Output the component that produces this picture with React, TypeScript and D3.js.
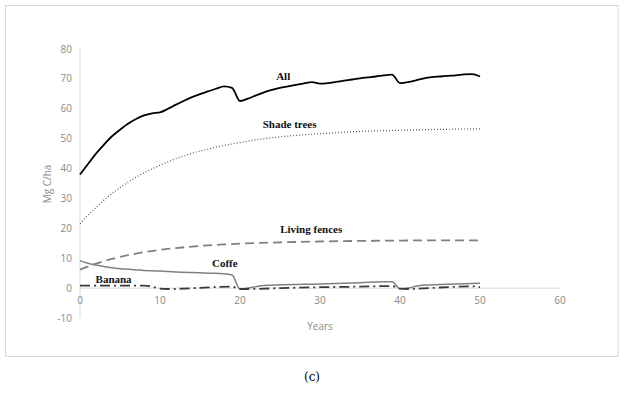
import React, { useEffect, useRef } from "react";
import * as d3 from "d3";

// carbon stock by component, Mg C/ha
const allYears = d3.range(0, 51);
const allValues = [
  38, 41.5, 45, 48, 50.8, 53, 55, 56.6, 57.8, 58.5, 58.8, 60, 61.4, 62.7, 63.9,
  64.9, 65.8, 66.7, 67.5, 67, 62.6, 63.4, 64.5, 65.5, 66.3, 67, 67.5, 68, 68.5,
  68.9, 68.4, 68.6, 69, 69.4, 69.8, 70.2, 70.5, 70.8, 71.2, 71.4, 68.6, 68.9,
  69.5, 70.2, 70.6, 70.8, 71, 71.2, 71.5, 71.6, 70.8,
];

const shadeYears = [0, 1, 2, 3, 4, 5, 6, 7, 8, 9, 10, 12, 14, 16, 18, 20, 22, 25, 28, 31, 34, 37, 40, 45, 50];
const shadeValues = [
  21.5, 24.4, 27, 29.5, 31.6, 33.6, 35.4, 37.1, 38.6, 39.9, 41.1, 43.3, 45.1,
  46.5, 47.7, 48.7, 49.6, 50.6, 51.3, 51.8, 52.3, 52.6, 52.8, 53.1, 53.3,
];

const fenceYears = [0, 2, 4, 6, 8, 10, 12, 14, 16, 18, 20, 25, 30, 35, 40, 45, 50];
const fenceValues = [6.2, 8.2, 9.8, 11, 12, 12.8, 13.4, 13.9, 14.3, 14.6, 14.9, 15.3, 15.6, 15.8, 15.9, 16, 16];

const coffeYears = [0, 1, 2, 3, 4, 5, 6, 7, 8, 9, 10, 12, 14, 16, 18, 19, 20, 21, 22, 23, 25, 30, 35, 38, 39, 40, 41, 42, 43, 45, 50];
const coffeValues = [
  9.2, 8.3, 7.7, 7.2, 6.8, 6.5, 6.3, 6.1, 5.9, 5.8, 5.7, 5.4, 5.2, 5, 4.8, 4.4,
  -0.3, 0, 0.5, 0.9, 1.1, 1.4, 1.8, 2.1, 2.1, -0.2, 0, 0.6, 1, 1.2, 1.6,
];

const bananaYears = [0, 5, 8, 9, 10, 11, 15, 19, 20, 21, 25, 30, 35, 39, 40, 41, 45, 49, 50];
const bananaValues = [0.8, 0.8, 0.8, 0.5, -0.2, -0.3, 0.1, 0.5, -0.3, -0.3, 0, 0.3, 0.5, 0.7, -0.2, -0.3, 0.2, 0.6, 0.3];

const xTicks = [0, 10, 20, 30, 40, 50, 60];
const yTicks = [-10, 0, 10, 20, 30, 40, 50, 60, 70, 80];

const seriesLabels = [
  { text: "All", year: 25.4, value: 69.6 },
  { text: "Shade trees", year: 26.2, value: 53.5 },
  { text: "Living fences", year: 28.9, value: 18.4 },
  { text: "Coffe", year: 18.1, value: 7.2 },
  { text: "Banana", year: 4.2, value: 1.7 },
];

const App = () => {
  const chartRef = useRef(null);

  useEffect(() => {
    const width = 624;
    const height = 395;
    d3.select(chartRef.current).select("svg").remove();
    const svg = d3
      .select(chartRef.current)
      .append("svg")
      .attr("width", width)
      .attr("height", height)
      .style("position", "absolute")
      .style("left", 0)
      .style("top", 0)
      .style("background", "#fff");

    // frame
    svg
      .append("rect")
      .attr("x", 5.5)
      .attr("y", 5.5)
      .attr("width", 612.5)
      .attr("height", 351)
      .attr("fill", "#fff")
      .attr("stroke", "#d9d9d9");

    const x = d3.scaleLinear().domain([0, 60]).range([80, 560]);
    const y = d3.scaleLinear().domain([-10, 80]).range([318, 49]);

    const tickFont = "'Open Sans', 'Liberation Sans', sans-serif";

    // axes lines
    svg
      .append("line")
      .attr("x1", x(0))
      .attr("x2", x(0))
      .attr("y1", y(-10))
      .attr("y2", y(80))
      .attr("stroke", "#d9d9d9")
      .attr("stroke-width", 1);
    svg
      .append("line")
      .attr("x1", x(0))
      .attr("x2", x(60))
      .attr("y1", y(0))
      .attr("y2", y(0))
      .attr("stroke", "#d9d9d9")
      .attr("stroke-width", 1);

    svg
      .append("g")
      .selectAll("text")
      .data(yTicks)
      .enter()
      .append("text")
      .attr("x", 72)
      .attr("y", (d) => y(d))
      .attr("dy", "0.35em")
      .attr("text-anchor", "end")
      .attr("font-family", tickFont)
      .attr("font-size", 10)
      .attr("fill", "#8a8a8a")
      .text((d) => d);

    svg
      .append("g")
      .selectAll("text")
      .data(xTicks)
      .enter()
      .append("text")
      .attr("x", (d) => x(d))
      .attr("y", y(0) + 12)
      .attr("dy", "0.35em")
      .attr("text-anchor", "middle")
      .attr("font-family", tickFont)
      .attr("font-size", 10)
      .attr("fill", "#8a8a8a")
      .text((d) => d);

    svg
      .append("text")
      .attr("transform", "translate(51, 184) rotate(-90)")
      .attr("text-anchor", "middle")
      .attr("font-family", tickFont)
      .attr("font-size", 10)
      .attr("fill", "#8a8a8a")
      .text("Mg C/ha");

    svg
      .append("text")
      .attr("x", 320)
      .attr("y", 330)
      .attr("text-anchor", "middle")
      .attr("font-family", tickFont)
      .attr("font-size", 10)
      .attr("fill", "#8a8a8a")
      .text("Years");

    const line = d3
      .line()
      .x((d) => x(d[0]))
      .y((d) => y(d[1]))
      .curve(d3.curveMonotoneX);

    const series = [
      { years: shadeYears, values: shadeValues, color: "#595959", width: 1.2, dash: "1,2" },
      { years: fenceYears, values: fenceValues, color: "#808080", width: 1.8, dash: "9,5" },
      { years: coffeYears, values: coffeValues, color: "#808080", width: 1.5, dash: null },
      { years: bananaYears, values: bananaValues, color: "#3a3a3a", width: 1.8, dash: "10,4,2,4" },
      { years: allYears, values: allValues, color: "#000", width: 1.8, dash: null },
    ];

    svg
      .append("g")
      .selectAll("path")
      .data(series)
      .enter()
      .append("path")
      .attr("d", (s) => line(s.years.map((yr, i) => [yr, s.values[i]])))
      .attr("fill", "none")
      .attr("stroke", (s) => s.color)
      .attr("stroke-width", (s) => s.width)
      .attr("stroke-dasharray", (s) => s.dash)
      .attr("stroke-linejoin", "round");

    svg
      .append("g")
      .selectAll("text")
      .data(seriesLabels)
      .enter()
      .append("text")
      .attr("x", (d) => x(d.year))
      .attr("y", (d) => y(d.value))
      .attr("text-anchor", "middle")
      .attr("font-family", "'Liberation Serif', 'Times New Roman', serif")
      .attr("font-weight", "bold")
      .attr("font-size", 11)
      .attr("fill", "#111")
      .text((d) => d.text);

    svg
      .append("text")
      .attr("x", 312)
      .attr("y", 381)
      .attr("text-anchor", "middle")
      .attr("font-family", "'DejaVu Serif', serif")
      .attr("font-size", 12)
      .attr("fill", "#000")
      .text("(c)");
  }, []);

  return <div ref={chartRef}></div>;
};

export default App;
